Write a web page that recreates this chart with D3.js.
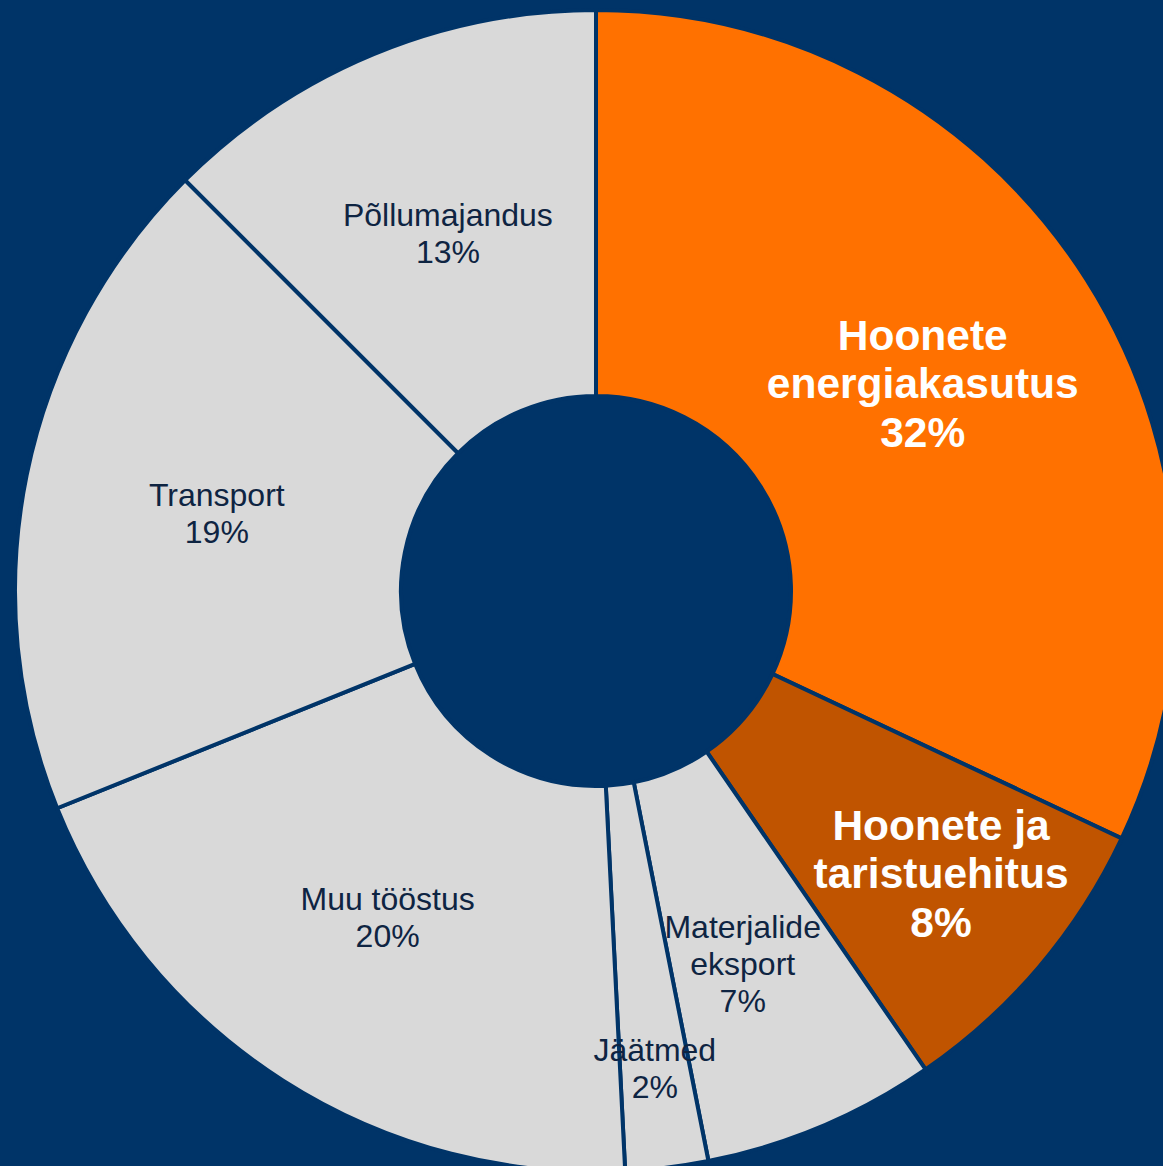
<!DOCTYPE html>
<html>
<head>
<meta charset="utf-8">
<script src="https://cdn.jsdelivr.net/npm/d3@7"></script>
<style>
  html, body { margin: 0; padding: 0; background: #003468; overflow: hidden; }
  svg { display: block; }
</style>
</head>
<body>
<svg id="svg" width="1163" height="1166"></svg>
<script>
// sectors, clockwise from 12 o'clock
const categories = [
  "Hoonete energiakasutus",
  "Hoonete ja taristuehitus",
  "Materjalide eksport",
  "Jäätmed",
  "Muu tööstus",
  "Transport",
  "Põllumajandus"
];
const shares = [32.0, 8.4, 6.5, 2.3, 19.7, 18.6, 12.5];
const labelLines = [
  ["Hoonete", "energiakasutus"],
  ["Hoonete ja", "taristuehitus"],
  ["Materjalide", "eksport"],
  ["Jäätmed"],
  ["Muu tööstus"],
  ["Transport"],
  ["Põllumajandus"]
];
const highlighted = ["Hoonete energiakasutus", "Hoonete ja taristuehitus"];

const width = 1163;
const height = 1166;
const cx = 596;
const cy = 591;
const outerR = 581;
const innerR = 195;

const colors = {
  "Hoonete energiakasutus": "#ff7100",
  "Hoonete ja taristuehitus": "#c05400"
};
const greyFill = "#d9d9d9";
const navy = "#003468";

// label distance from centre, a few are pushed outwards like in the original
const labelRadius = {
  "Hoonete ja taristuehitus": 446,
  "Materjalide eksport": 401,
  "Jäätmed": 481
};
// small angular nudge (degrees) for crowded labels
const labelTurn = {
  "Hoonete ja taristuehitus": -1,
  "Materjalide eksport": 1.4
};

const data = categories.map((c, i) => ({
  name: c,
  value: shares[i],
  lines: labelLines[i]
}));

const svg = d3.select("#svg");
const g = svg.append("g").attr("transform", `translate(${cx},${cy})`);

const pie = d3.pie().sort(null).value(d => d.value);
const arcs = pie(data);

const arc = d3.arc().innerRadius(innerR).outerRadius(outerR);

g.selectAll("path.slice")
  .data(arcs)
  .join("path")
  .attr("class", "slice")
  .attr("d", arc)
  .attr("fill", d => colors[d.data.name] || greyFill)
  .attr("stroke", navy)
  .attr("stroke-width", 4)
  .attr("stroke-linejoin", "miter");

g.selectAll("text.label")
  .data(arcs)
  .join("text")
  .attr("class", "label")
  .attr("text-anchor", "middle")
  .attr("font-family", "'Liberation Sans', Arial, sans-serif")
  .each(function(d) {
    const big = highlighted.includes(d.data.name);
    const r = labelRadius[d.data.name] || 387;
    const mid = (d.startAngle + d.endAngle) / 2 +
      ((labelTurn[d.data.name] || 0) * Math.PI) / 180;
    const x = Math.sin(mid) * r;
    const y = -Math.cos(mid) * r;
    const fontSize = big ? 42.5 : 32;
    const lh = big ? 48.5 : 37;
    const lines = d.data.lines.concat([Math.round(d.data.value) + "%"]);
    const t = d3.select(this)
      .attr("font-size", fontSize)
      .attr("font-weight", big ? "bold" : "normal")
      .attr("fill", big ? "#ffffff" : "#0e2442");
    const top = y - ((lines.length - 1) * lh) / 2;
    lines.forEach((ln, k) => {
      t.append("tspan")
        .attr("x", x)
        .attr("y", top + k * lh)
        .attr("dominant-baseline", "central")
        .text(ln);
    });
  });
</script>
</body>
</html>
